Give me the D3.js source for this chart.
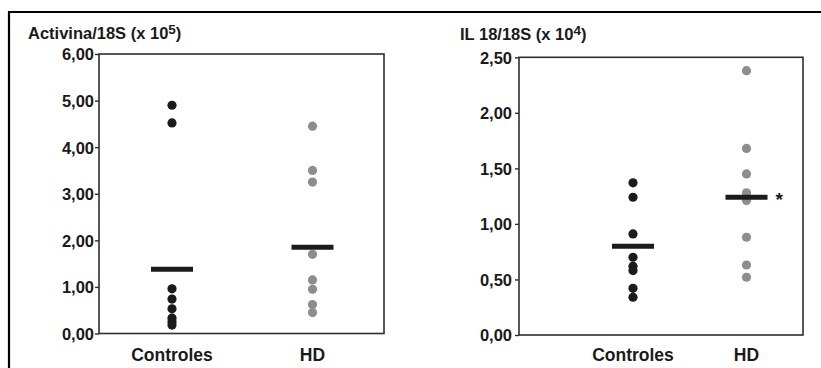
<!DOCTYPE html>
<html>
<head>
<meta charset="utf-8">
<script src="https://cdn.jsdelivr.net/npm/d3@7/dist/d3.min.js"></script>
<style>
  html, body { margin: 0; padding: 0; background: #fff; }
  svg { display: block; font-family: "Liberation Sans", Arial, Helvetica, sans-serif; }
</style>
</head>
<body>
<svg id="chart" width="821" height="368"></svg>
<script>
// ---- data ----
const categories = ["Controles", "HD"];

const activinaControles = [4.90, 4.52, 0.96, 0.74, 0.53, 0.33, 0.25, 0.18];
const activinaHD = [4.45, 3.50, 3.25, 1.70, 1.15, 0.95, 0.62, 0.45];
const activinaMeans = [1.38, 1.85];
const activinaTicks = [0, 1, 2, 3, 4, 5, 6];

const il18Controles = [1.37, 1.24, 0.91, 0.70, 0.62, 0.58, 0.42, 0.34];
const il18HD = [2.38, 1.68, 1.45, 1.28, 1.21, 0.88, 0.63, 0.52];
const il18Means = [0.80, 1.24];
const il18Ticks = [0, 0.5, 1.0, 1.5, 2.0, 2.5];

const seriesColors = ["#1b1b1b", "#8d8d8d"];

// ---- drawing ----
const svg = d3.select("#chart");
const fmt = v => d3.format(".2f")(v).replace(".", ",");

// outer frame (left and top edges visible)
svg.append("path")
  .attr("d", "M9,368 L9,12 L821,12")
  .attr("fill", "none").attr("stroke", "#000").attr("stroke-width", 2.2);

function panel(cfg) {
  const g = svg.append("g");
  const y = d3.scaleLinear().domain(cfg.domain).range([cfg.bottom, cfg.top]);
  const x = d3.scalePoint().domain(categories).range(cfg.xRange);

  // box
  g.append("rect")
    .attr("x", cfg.left).attr("y", cfg.top)
    .attr("width", cfg.right - cfg.left).attr("height", cfg.bottom - cfg.top)
    .attr("fill", "none").attr("stroke", "#2e2e2e").attr("stroke-width", 1.6);

  // axis
  const ax = g.append("g").attr("transform", `translate(${cfg.left},0)`)
    .call(d3.axisLeft(y).tickValues(cfg.ticks).tickFormat(fmt)
      .tickSize(4).tickPadding(cfg.pad));
  ax.attr("font-size", null).attr("font-family", null);
  ax.select(".domain").remove();
  ax.selectAll(".tick line").attr("stroke", "#2e2e2e").attr("stroke-width", 1.4);
  ax.selectAll(".tick text")
    .style("font-size", "16.5px").style("font-weight", "bold").attr("fill", "#1a1a1a")
    .attr("dy", "0.36em");

  // title
  const t = g.append("text")
    .attr("x", cfg.titleX).attr("y", cfg.titleY)
    .style("font-size", "16.5px").style("font-weight", "bold").attr("fill", "#1a1a1a");
  t.append("tspan").text(cfg.title);
  t.append("tspan").style("font-size", "13.5px").attr("dy", -5).text(cfg.exp);
  t.append("tspan").attr("dy", 5).text(")");

  // dots
  const groups = [cfg.a, cfg.b];
  groups.forEach((vals, i) => {
    g.selectAll(null).data(vals).enter().append("circle")
      .attr("cx", x(categories[i]))
      .attr("cy", d => y(d))
      .attr("r", 4.6)
      .attr("fill", seriesColors[i]);
  });

  // mean lines
  g.selectAll(null).data(cfg.means).enter().append("line")
    .attr("x1", (d, i) => x(categories[i]) - 21)
    .attr("x2", (d, i) => x(categories[i]) + 21)
    .attr("y1", d => y(d)).attr("y2", d => y(d))
    .attr("stroke", "#1b1b1b").attr("stroke-width", 5);

  // category labels
  g.selectAll(null).data(categories).enter().append("text")
    .attr("x", d => x(d)).attr("y", 361)
    .attr("text-anchor", "middle")
    .style("font-size", "17.5px").style("font-weight", "bold").attr("fill", "#1a1a1a")
    .text(d => d);

  if (cfg.star) {
    g.append("text")
      .attr("x", x(categories[1]) + 29).attr("y", y(cfg.means[1]) + 9)
      .style("font-size", "19px").style("font-weight", "bold").attr("fill", "#1a1a1a")
      .text("*");
  }
}

panel({
  domain: [0, 6], ticks: activinaTicks,
  left: 99, right: 384, top: 54, bottom: 333.5, xRange: [172, 312.5], pad: 1,
  title: "Activina/18S (x 10", exp: "5", titleX: 28, titleY: 39,
  a: activinaControles, b: activinaHD, means: activinaMeans, star: false
});

panel({
  domain: [0, 2.5], ticks: il18Ticks,
  left: 519, right: 803, top: 57.3, bottom: 335, xRange: [633, 746.5], pad: 3,
  title: "IL 18/18S (x 10", exp: "4", titleX: 460, titleY: 40,
  a: il18Controles, b: il18HD, means: il18Means, star: true
});
</script>
</body>
</html>
